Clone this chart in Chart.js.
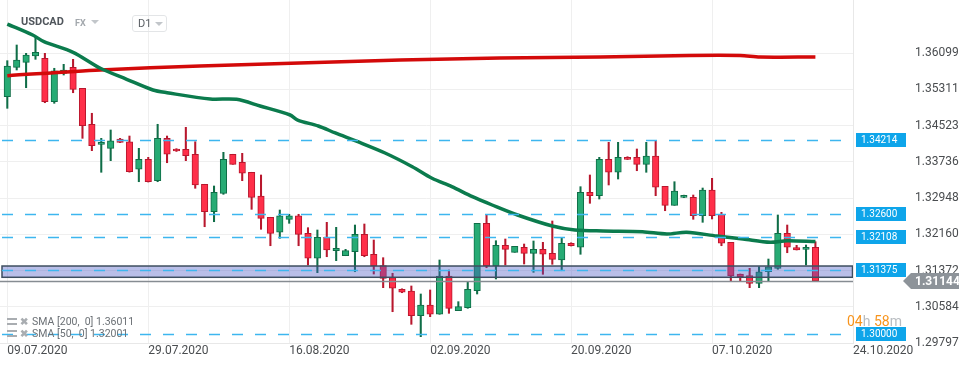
<!DOCTYPE html>
<html>
<head>
<meta charset="utf-8">
<script src="https://cdn.jsdelivr.net/npm/chart.js@4.4.0/dist/chart.umd.min.js"></script>
<style>
  body { margin: 0; background: #fff; font-family: Roboto, "Noto Sans", sans-serif; }
  #wrap { position: relative; width: 974px; height: 368px; overflow: hidden; }
  #chart { position: absolute; left: 0; top: 0; }
  .abs { position: absolute; white-space: nowrap; }
  #symbol { left: 21px; top: 15px; font-size: 11px; font-weight: 700; color: #50565c; }
  #market { left: 75px; top: 18px; font-size: 9px; font-weight: 700; color: #a3a8ad; }
  .caret { width: 0; height: 0; border-left: 4px solid transparent; border-right: 4px solid transparent; border-top: 4px solid #c2c6ca; }
  #tf { left: 132px; top: 15px; width: 33px; height: 15px; border: 1px solid #e3e5e7; border-radius: 3px; }
  #tf span { position: absolute; left: 5px; top: 1px; font-size: 11px; color: #5a5f64; }
  .leg { left: 7px; font-size: 10.5px; color: #6b7075; }
  .leg i { display: inline-block; width: 10px; height: 7px; border-top: 2px solid #a9adb1; border-bottom: 2px solid #a9adb1; box-sizing: border-box; vertical-align: 0px; margin-right: 3px; position: relative; }
  .leg b { font-weight: 700; color: #a9adb1; margin-right: 4px; font-size: 10px; }
  #timer { left: 847px; top: 313px; font-size: 14px; color: #f7941d; }
  #timer span { color: #b9bdc1; }
</style>
</head>
<body>
<div id="wrap">
  <canvas id="chart" width="974" height="368"></canvas>
  <div class="abs" id="symbol">USDCAD</div>
  <div class="abs" id="market">FX</div>
  <div class="abs caret" style="left:91px;top:20px;"></div>
  <div class="abs" id="tf"><span>D1</span><div class="abs caret" style="left:22px;top:6px;"></div></div>
  <div class="abs leg" style="top:315px;"><i></i><b>✖</b>SMA [200,&nbsp; 0] 1.36011</div>
  <div class="abs leg" style="top:327px;"><i></i><b>✖</b>SMA [50,&nbsp; 0] 1.32001</div>
  <div class="abs" id="timer">04<span>h</span> 58<span>m</span></div>
</div>
<script>
// daily USDCAD candles, index 0 = 09.07.2020
const opens = [1.35149, 1.35788, 1.35897, 1.36034, 1.35984, 1.35041, 1.35658, 1.35788, 1.35332, 1.34550,
  1.34115, 1.34028, 1.34230, 1.34171, 1.33572, 1.33789, 1.33324, 1.34245, 1.34006, 1.34006,
  1.33898, 1.33246, 1.32650, 1.33050, 1.33898, 1.33724, 1.33507, 1.32991, 1.32529, 1.32203,
  1.32485, 1.32563, 1.32181, 1.31638, 1.32094, 1.31803, 1.31694, 1.31781, 1.32159, 1.31725,
  1.31477, 1.31216, 1.30964, 1.30927, 1.30390, 1.30623, 1.30421, 1.31253, 1.30499, 1.30564,
  1.30934, 1.32398, 1.31470, 1.31920, 1.31768, 1.31877, 1.31746, 1.31833, 1.31746, 1.31601,
  1.31964, 1.31877, 1.33072, 1.32998, 1.33789, 1.33507, 1.33832, 1.33832, 1.33680, 1.33861,
  1.33202, 1.32789, 1.32963, 1.32963, 1.32563, 1.33122, 1.32594, 1.31985, 1.31296, 1.31260,
  1.31094, 1.31346, 1.31420, 1.32181, 1.31868, 1.31833, 1.31877];
const highs = [1.35932, 1.36273, 1.36092, 1.36440, 1.36092, 1.35767, 1.35853, 1.35962, 1.35332, 1.34789,
  1.34245, 1.34426, 1.34245, 1.34295, 1.34028, 1.33832, 1.34550, 1.34295, 1.34020, 1.34484,
  1.34171, 1.33246, 1.33209, 1.33941, 1.33898, 1.33919, 1.33507, 1.33448, 1.32529, 1.32687,
  1.32594, 1.32594, 1.32303, 1.32253, 1.32420, 1.32311, 1.31833, 1.32361, 1.32383, 1.32035,
  1.31651, 1.31312, 1.30975, 1.31036, 1.30862, 1.30949, 1.31601, 1.31383, 1.30695, 1.31129,
  1.32398, 1.32579, 1.32020, 1.32057, 1.31898, 1.31948, 1.32014, 1.31985, 1.32448, 1.32072,
  1.31975, 1.33194, 1.33448, 1.33832, 1.34158, 1.34158, 1.33845, 1.34013, 1.34158, 1.34187,
  1.33202, 1.33302, 1.33010, 1.33013, 1.33165, 1.33376, 1.32637, 1.31985, 1.31296, 1.31420,
  1.31455, 1.31622, 1.32579, 1.32361, 1.31920, 1.31927, 1.31998];
const lows = [1.34897, 1.35730, 1.35345, 1.35962, 1.35019, 1.35006, 1.35621, 1.35236, 1.34245, 1.33976,
  1.33507, 1.33759, 1.34150, 1.33510, 1.33302, 1.33295, 1.33302, 1.33715, 1.33960, 1.33759,
  1.33159, 1.32324, 1.32433, 1.33028, 1.33680, 1.33324, 1.32702, 1.32268, 1.31911, 1.32072,
  1.32398, 1.31911, 1.31492, 1.31325, 1.31672, 1.31586, 1.31694, 1.31346, 1.31672, 1.31296,
  1.30999, 1.30477, 1.30890, 1.30203, 1.29934, 1.30369, 1.30421, 1.30442, 1.30499, 1.30551,
  1.30862, 1.31433, 1.31188, 1.31492, 1.31768, 1.31514, 1.31333, 1.31290, 1.31507, 1.31368,
  1.31905, 1.31725, 1.32833, 1.32926, 1.33231, 1.33361, 1.33785, 1.33541, 1.33507, 1.32998,
  1.32672, 1.32789, 1.32955, 1.32485, 1.32420, 1.32492, 1.31911, 1.31144, 1.31144, 1.30999,
  1.30999, 1.31144, 1.31399, 1.31759, 1.31818, 1.31492, 1.31144];
const closes = [1.35817, 1.35947, 1.36056, 1.36114, 1.35041, 1.35714, 1.35730, 1.35310, 1.34519, 1.34085,
  1.34158, 1.34193, 1.34158, 1.33520, 1.33789, 1.33302, 1.34245, 1.33898, 1.33969, 1.33867,
  1.33231, 1.32650, 1.33072, 1.33789, 1.33680, 1.33485, 1.32963, 1.32507, 1.32181, 1.32563,
  1.32563, 1.32159, 1.31638, 1.32094, 1.31818, 1.31855, 1.31803, 1.32159, 1.31694, 1.31470,
  1.31203, 1.30986, 1.30899, 1.30390, 1.30623, 1.30421, 1.31253, 1.30551, 1.30586, 1.30964,
  1.32398, 1.31470, 1.31920, 1.31833, 1.31898, 1.31746, 1.31833, 1.31725, 1.31616, 1.31964,
  1.31911, 1.33072, 1.32998, 1.33789, 1.33507, 1.33832, 1.33789, 1.33680, 1.33861, 1.33181,
  1.32789, 1.33100, 1.32998, 1.32563, 1.33122, 1.32563, 1.31964, 1.31253, 1.31238, 1.31094,
  1.31346, 1.31455, 1.32181, 1.31877, 1.31818, 1.31877, 1.31144];

// moving averages (candle index, value)
const sma200Idx = [0, 9.9, 20.5, 31.1, 41.8, 52.4, 63.1, 72.6, 78, 80.1, 86];
const sma200Val = [1.35606, 1.35730, 1.35817, 1.35882, 1.35947, 1.35990, 1.36012, 1.36045, 1.36045, 1.36012, 1.36011];
const sma50Idx = [0, 2.7, 3.9, 7.0, 9.9, 12.7, 15.5, 17.0, 21.6, 24.4, 26.9, 30.1, 30.9, 33.1, 34.9, 37.3, 40.2,
  43.1, 45.2, 47.3, 49.5, 51.6, 54.3, 58.0, 60.4, 63.4, 67.6, 70.2, 72.3, 75.5, 78.3, 81.2, 83.0, 86];
const sma50Val = [1.36729, 1.36490, 1.36345, 1.36114, 1.35767, 1.35528, 1.35295, 1.35236, 1.35099, 1.35093, 1.34947,
  1.34752, 1.34643, 1.34513, 1.34361, 1.34171, 1.33926, 1.33628, 1.33376, 1.33194, 1.32976, 1.32796,
  1.32579, 1.32340, 1.32253, 1.32231, 1.32216, 1.32166, 1.32203, 1.32122, 1.32057, 1.31985, 1.32020, 1.32001];

const levels = [1.34214, 1.32600, 1.32108, 1.31375, 1.30000];
const zoneTop = 1.31470;
const zoneBottom = 1.31225;
const lastPrice = 1.31144;

const priceTicks = [1.29797, 1.30584, 1.31372, 1.32160, 1.32948, 1.33736, 1.34523, 1.35311, 1.36099];
const dateTickIdx = [0, 15, 30, 45, 60, 75, 90];
const dateLabels = ['09.07.2020', '29.07.2020', '16.08.2020', '02.09.2020', '20.09.2020', '07.10.2020', '24.10.2020'];

const UP = '#27ab74', UP_EDGE = '#0f6d47';
const DOWN = '#ff2f49', DOWN_EDGE = '#b8172d';
const isUp = i => closes[i] >= opens[i];

const overlay = {
  id: 'overlay',
  afterDatasetsDraw(chart) {
    const { ctx, chartArea: a, scales: { y } } = chart;
    ctx.save();
    ctx.beginPath();
    ctx.rect(a.left, a.top, a.right - a.left, a.bottom - a.top);
    ctx.clip();

    // support zone
    const zt = y.getPixelForValue(zoneTop), zb = y.getPixelForValue(zoneBottom);
    ctx.fillStyle = 'rgba(70,85,195,0.38)';
    ctx.fillRect(a.left + 2, zt, a.right - a.left - 2, zb - zt);
    ctx.strokeStyle = '#3e4e60';
    ctx.lineWidth = 1.5;
    ctx.strokeRect(a.left + 2, zt, a.right - a.left - 2.5, zb - zt);

    // current price line
    const lp = Math.round(y.getPixelForValue(lastPrice)) + 0.5;
    ctx.strokeStyle = '#868c92';
    ctx.lineWidth = 1.5;
    ctx.beginPath(); ctx.moveTo(a.left, lp); ctx.lineTo(a.right, lp); ctx.stroke();

    // horizontal levels
    ctx.setLineDash([11, 12]);
    ctx.strokeStyle = '#3db6ef';
    ctx.lineWidth = 1.5;
    levels.forEach(v => {
      const py = Math.round(y.getPixelForValue(v)) + 0.5;
      ctx.beginPath(); ctx.moveTo(a.left + 2, py); ctx.lineTo(a.right, py); ctx.stroke();
    });
    ctx.restore();

    // level tags
    ctx.save();
    ctx.font = '10px Roboto';
    ctx.textBaseline = 'middle';
    levels.forEach(v => {
      const py = Math.round(y.getPixelForValue(v));
      ctx.fillStyle = '#0ea5ea';
      ctx.fillRect(a.right + 3, py - 7, 50, 14);
      ctx.fillStyle = '#fff';
      ctx.fillText(v.toFixed(5), a.right + 8, py + 0.5);
    });

    // last price tag
    const py = Math.round(y.getPixelForValue(lastPrice));
    ctx.fillStyle = '#8d9399';
    ctx.beginPath();
    ctx.moveTo(a.right + 50, py);
    ctx.lineTo(a.right + 58, py - 8);
    ctx.lineTo(a.right + 106, py - 8);
    ctx.lineTo(a.right + 106, py + 8);
    ctx.lineTo(a.right + 58, py + 8);
    ctx.closePath();
    ctx.fill();
    ctx.fillStyle = '#fff';
    ctx.font = 'bold 12px Roboto';
    ctx.fillText(lastPrice.toFixed(5), a.right + 62, py + 0.5);
    ctx.restore();
  }
};

new Chart(document.getElementById('chart'), {
  type: 'bar',
  data: {
    datasets: [
      {
        label: 'wick',
        order: 4,
        grouped: false,
        data: opens.map((o, i) => ({ x: i, y: [lows[i], highs[i]] })),
        backgroundColor: ctx => isUp(ctx.dataIndex) ? UP_EDGE : DOWN_EDGE,
        barThickness: 1.4,
      },
      {
        label: 'body',
        order: 3,
        grouped: false,
        data: opens.map((o, i) => ({ x: i, y: [o, closes[i]] })),
        backgroundColor: ctx => isUp(ctx.dataIndex) ? UP : DOWN,
        borderColor: ctx => isUp(ctx.dataIndex) ? UP_EDGE : DOWN_EDGE,
        borderWidth: 1,
        borderSkipped: false,
        barThickness: 6.5,
        minBarLength: 2,
      },
      {
        type: 'line',
        label: 'SMA 200',
        order: 2,
        data: sma200Idx.map((x, i) => ({ x, y: sma200Val[i] })),
        borderColor: '#d30a0a',
        borderWidth: 3.5,
        pointRadius: 0,
        tension: 0.3,
      },
      {
        type: 'line',
        label: 'SMA 50',
        order: 1,
        data: sma50Idx.map((x, i) => ({ x, y: sma50Val[i] })),
        borderColor: '#0b7b4d',
        borderWidth: 3.5,
        pointRadius: 0,
        tension: 0.3,
      },
    ],
  },
  options: {
    responsive: false,
    animation: false,
    devicePixelRatio: 1,
    layout: { padding: 0 },
    plugins: { legend: { display: false }, tooltip: { enabled: false } },
    scales: {
      x: {
        type: 'linear',
        min: -0.777,
        max: 90,
        offset: false,
        afterBuildTicks: s => { s.ticks = dateTickIdx.map(v => ({ value: v })); },
        afterFit: s => { s.height = 25; s.paddingLeft = 0; s.paddingRight = 0; },
        ticks: {
          autoSkip: false,
          maxRotation: 0,
          align: 'start',
          padding: 1,
          color: '#4a4d50',
          font: { family: 'Roboto', size: 12 },
          callback: v => dateLabels[dateTickIdx.indexOf(v)],
        },
        grid: { color: '#efefef', drawTicks: false, offset: false },
        border: { color: '#e8e8e8' },
      },
      y: {
        position: 'right',
        min: 1.29797,
        max: 1.37251,
        afterBuildTicks: s => { s.ticks = priceTicks.map(v => ({ value: v })); },
        afterFit: s => { s.width = 121; s.paddingTop = 0; s.paddingBottom = 0; },
        ticks: {
          padding: 62,
          color: '#4a4d50',
          font: { family: 'Roboto', size: 12 },
          callback: v => v.toFixed(5),
        },
        grid: { color: '#efefef', drawTicks: false },
        border: { color: '#e8e8e8' },
      },
    },
  },
  plugins: [overlay],
});
</script>
</body>
</html>
